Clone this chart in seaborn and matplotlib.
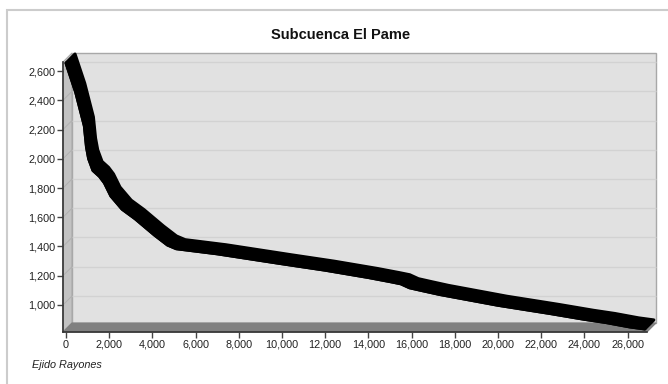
import numpy as np
import pandas as pd
import matplotlib
matplotlib.use('Agg')
import matplotlib.pyplot as plt
import matplotlib.patheffects as pe
import matplotlib.transforms as mtransforms
from matplotlib.patches import Polygon, Rectangle
from matplotlib.ticker import FuncFormatter
import seaborn as sns

# profile (distance in m, elevation in m)
dist = [0, 450, 850, 950, 1050, 1250, 1550, 1780, 2080, 2600, 3200, 4100, 4700, 5100,
        7000, 10000, 12000, 13000, 14000, 15000, 15500, 15900, 16500, 17300, 19200,
        20000, 22400, 24000, 25000, 26100, 26800]
elev = [2655, 2455, 2225, 2080, 2000, 1920, 1880, 1835, 1745, 1655, 1590, 1478, 1410, 1385,
        1350, 1282, 1238, 1213, 1188, 1160, 1145, 1118, 1098, 1072, 1020,
        998, 942, 902, 880, 850, 836]
xticks = list(range(0, 26001, 2000))
yticks = list(range(1000, 2601, 200))
title = "Subcuenca El Pame"
footer = "Ejido Rayones"

df = pd.DataFrame({'dist': dist, 'elev': elev})

sns.set_theme(style='white')
plt.rcParams['font.family'] = ['Liberation Sans', 'DejaVu Sans']

W, H = 668, 384
fig = plt.figure(figsize=(W / 100, H / 100), dpi=100)
fig.patch.set_facecolor('white')

# outer frame
fig.add_artist(Rectangle((7 / W, -0.05), 1.0, 1 - 10 / H + 0.05, transform=fig.transFigure,
                         fill=False, edgecolor='#cccccc', linewidth=1.5))

L, R, T, B = 63, 647, 62, 332
ax = fig.add_axes([L / W, 1 - B / H, (R - L) / W, (B - T) / H])
ax.patch.set_visible(False)
ax.set_xlim(-140, 26900)
ax.set_ylim(815, 2662)

# depth of the pseudo 3D box
dpx = 9
dxa = dpx / (R - L)
dya = dpx / (B - T)

back = Rectangle((dxa, dya), 1, 1, transform=ax.transAxes, clip_on=False,
                 facecolor='#e1e1e1', edgecolor='#a8a8a8', linewidth=1, zorder=0)
ax.add_patch(back)
left_wall = Polygon([(0, 0), (dxa, dya), (dxa, 1 + dya), (0, 1)], closed=True,
                    transform=ax.transAxes, clip_on=False,
                    facecolor='#c2c2c2', edgecolor='#a8a8a8', linewidth=0.8, zorder=0.5)
ax.add_patch(left_wall)

# grid on back wall and left wall
ylo, yhi = ax.get_ylim()
off = mtransforms.ScaledTranslation(dpx / 100, dpx / 100, fig.dpi_scale_trans)
ax.hlines(yticks, 0, 1, transform=ax.get_yaxis_transform() + off,
          colors='#d2d2d2', linewidth=1, zorder=0.6, clip_on=False)
for yv in yticks:
    ya = (yv - ylo) / (yhi - ylo)
    ax.plot([0, dxa], [ya, ya + dya], transform=ax.transAxes, color='#b0b0b0',
            linewidth=0.7, zorder=0.7, clip_on=False)

floor = Polygon([(0, 0), (1, 0), (1 + dxa, dya), (dxa, dya)], closed=True,
                transform=ax.transAxes, clip_on=False,
                facecolor='#808080', edgecolor='#808080', linewidth=0.8, zorder=1)
ax.add_patch(floor)

# ribbon line
sns.lineplot(data=df, x='dist', y='elev', color='black', linewidth=2.2, ax=ax,
             zorder=3, clip_on=False)
line = ax.lines[-1]
line.set_solid_joinstyle('round')
depth_pt = dpx * 0.72
steps = np.linspace(0, depth_pt, 14)
line.set_path_effects([pe.Stroke(offset=(s, s), linewidth=2.2, foreground='black')
                       for s in steps] + [pe.Normal()])

ax.set_xticks(xticks)
ax.set_yticks(yticks)
fmt = FuncFormatter(lambda v, p: f"{int(v):,}")
ax.xaxis.set_major_formatter(fmt)
ax.yaxis.set_major_formatter(fmt)
ax.tick_params(axis='both', which='major', direction='out', length=4, width=1,
               color='#444444', labelsize=7.8, labelcolor='#222222', pad=1.5,
               left=True, bottom=True)
ax.set_xlabel('')
ax.set_ylabel('')
ax.grid(False)
for s in ['top', 'right']:
    ax.spines[s].set_visible(False)
for s in ['left', 'bottom']:
    ax.spines[s].set_color('#333333')
    ax.spines[s].set_linewidth(1.2)
    ax.spines[s].set_zorder(4)

fig.text(341 / W, 1 - 35 / H, title, ha='center', va='center', fontsize=10.5,
         fontweight='bold', color='#111111')
fig.text(32 / W, 1 - 365 / H, footer, ha='left', va='center', fontsize=7.8,
         fontstyle='italic', color='#222222')

fig.savefig('out.png', dpi=100)
